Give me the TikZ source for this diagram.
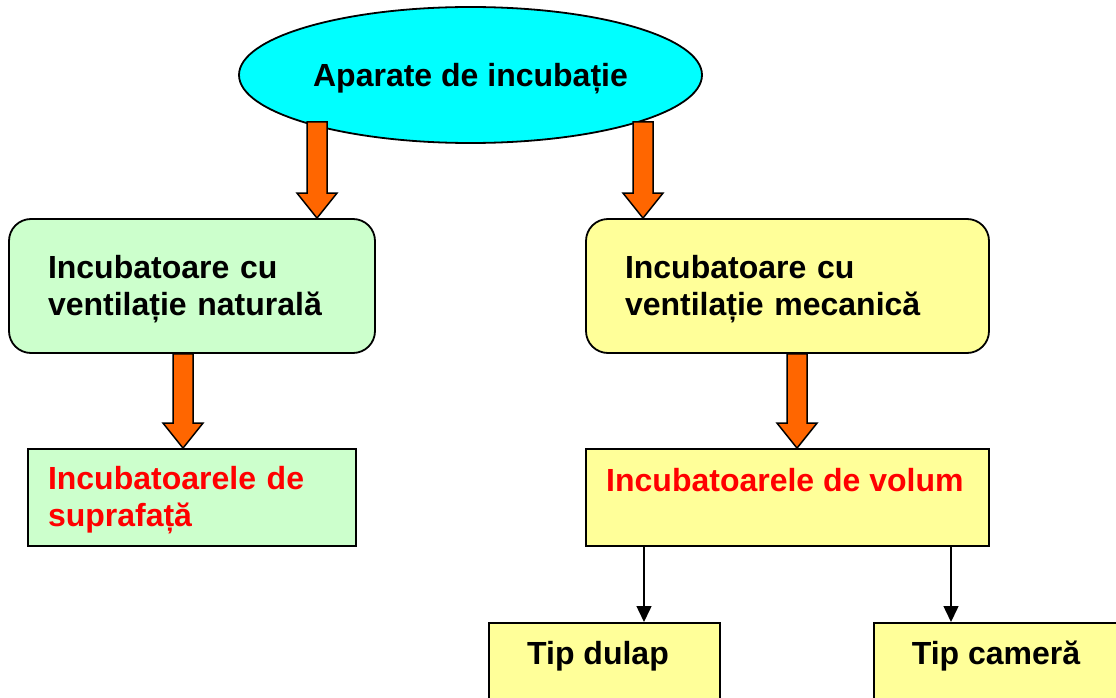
\documentclass[tikz,border=0pt]{standalone}
\usepackage{fontspec}
\setmainfont{Liberation Sans}
\usetikzlibrary{calc,arrows.meta,shapes.geometric}
\definecolor{cyanfill}{HTML}{00FFFF}
\definecolor{greenfill}{HTML}{CCFFCC}
\definecolor{yellowfill}{HTML}{FFFF99}
\definecolor{orangefill}{HTML}{FF6600}
\definecolor{redtext}{HTML}{FF0000}
\newcommand{\lowered}[2]{\raisebox{-#1}[\height][\depth]{#2}}
\begin{document}
\begin{tikzpicture}[x=1pt,y=-1pt,
  every node/.style={font=\fontsize{32}{37}\selectfont\bfseries, inner sep=0pt},
  border/.style={draw=black, line width=1.8pt},
  oval/.style={border, ellipse, fill=cyanfill, minimum width=463pt, minimum height=136pt},
  roundbox/.style={border, rectangle, rounded corners=22pt, align=left, minimum height=134pt},
  plainbox/.style={border, rectangle},
  blockarrow/.style={draw=black, line width=1.5pt, fill=orangefill, line join=miter,
    to path={let \p1=(\tikztostart), \p2=(\tikztotarget) in
      (\x1-10pt,\y1) -- (\x1+10pt,\y1) -- (\x1+10pt,\y2+25pt) -- (\x1+20pt,\y2+25pt)
      -- (\x1,\y2) -- (\x1-20pt,\y2+25pt) -- (\x1-10pt,\y2+25pt) -- cycle}},
  thinarrow/.style={line width=1.5pt, -{Triangle[width=15pt,length=16pt]}},
]
\useasboundingbox (0,0) rectangle (1116,698);
\clip (0,0) rectangle (1116,698);

% top ellipse
\node[oval] (top) at (470.5,75) {\lowered{4pt}{Aparate de incubație}};

% second row
\node[roundbox, fill=greenfill, minimum width=366pt, text width=288pt] (nat) at (192,286) {\lowered{3pt}{Incubatoare cu}\\\lowered{3pt}{ventilație naturală}};
\node[roundbox, fill=yellowfill, minimum width=403pt, text width=325pt] (mec) at (787.5,286) {\lowered{3pt}{Incubatoare cu}\\\lowered{3pt}{ventilație mecanică}};

% third row
\node[plainbox, fill=greenfill, minimum width=328pt, minimum height=97pt, text width=288pt, align=left, text=redtext] (supr) at (192,497.5) {\lowered{3pt}{Incubatoarele de}\\\lowered{3pt}{suprafață}};
\node[plainbox, fill=yellowfill, minimum width=403pt, minimum height=97pt] (vol) at (787.5,497.5) {};
\node[text=redtext, anchor=base west] (volt) at (606,491) {Incubatoarele de volum};

% bottom row
\node[plainbox, fill=yellowfill, minimum width=231pt, minimum height=100pt, anchor=north] (dul) at (604.5,622) {};
\node[anchor=base] (dult) at (598,664) {Tip dulap};
\node[plainbox, fill=yellowfill, minimum width=247pt, minimum height=100pt, anchor=north west] (cam) at (873,622) {};
\node[anchor=base] (camt) at (996,664) {Tip cameră};

% block arrows
\coordinate (x1) at (317,122);
\coordinate (x2) at (643,122);
\coordinate (x3) at (183,0);
\coordinate (x4) at (797,0);
\path[blockarrow] (x1) to (x1 |- nat.north);
\path[blockarrow] (x2) to (x2 |- mec.north);
\path[blockarrow] (x3 |- nat.south) to (x3 |- supr.north);
\path[blockarrow] (x4 |- mec.south) to (x4 |- vol.north);

% thin arrows
\coordinate (x5) at (644,0);
\coordinate (x6) at (951,0);
\draw[thinarrow] (x5 |- vol.south) -- (x5 |- dul.north);
\draw[thinarrow] (x6 |- vol.south) -- (x6 |- cam.north);
\end{tikzpicture}
\end{document}
